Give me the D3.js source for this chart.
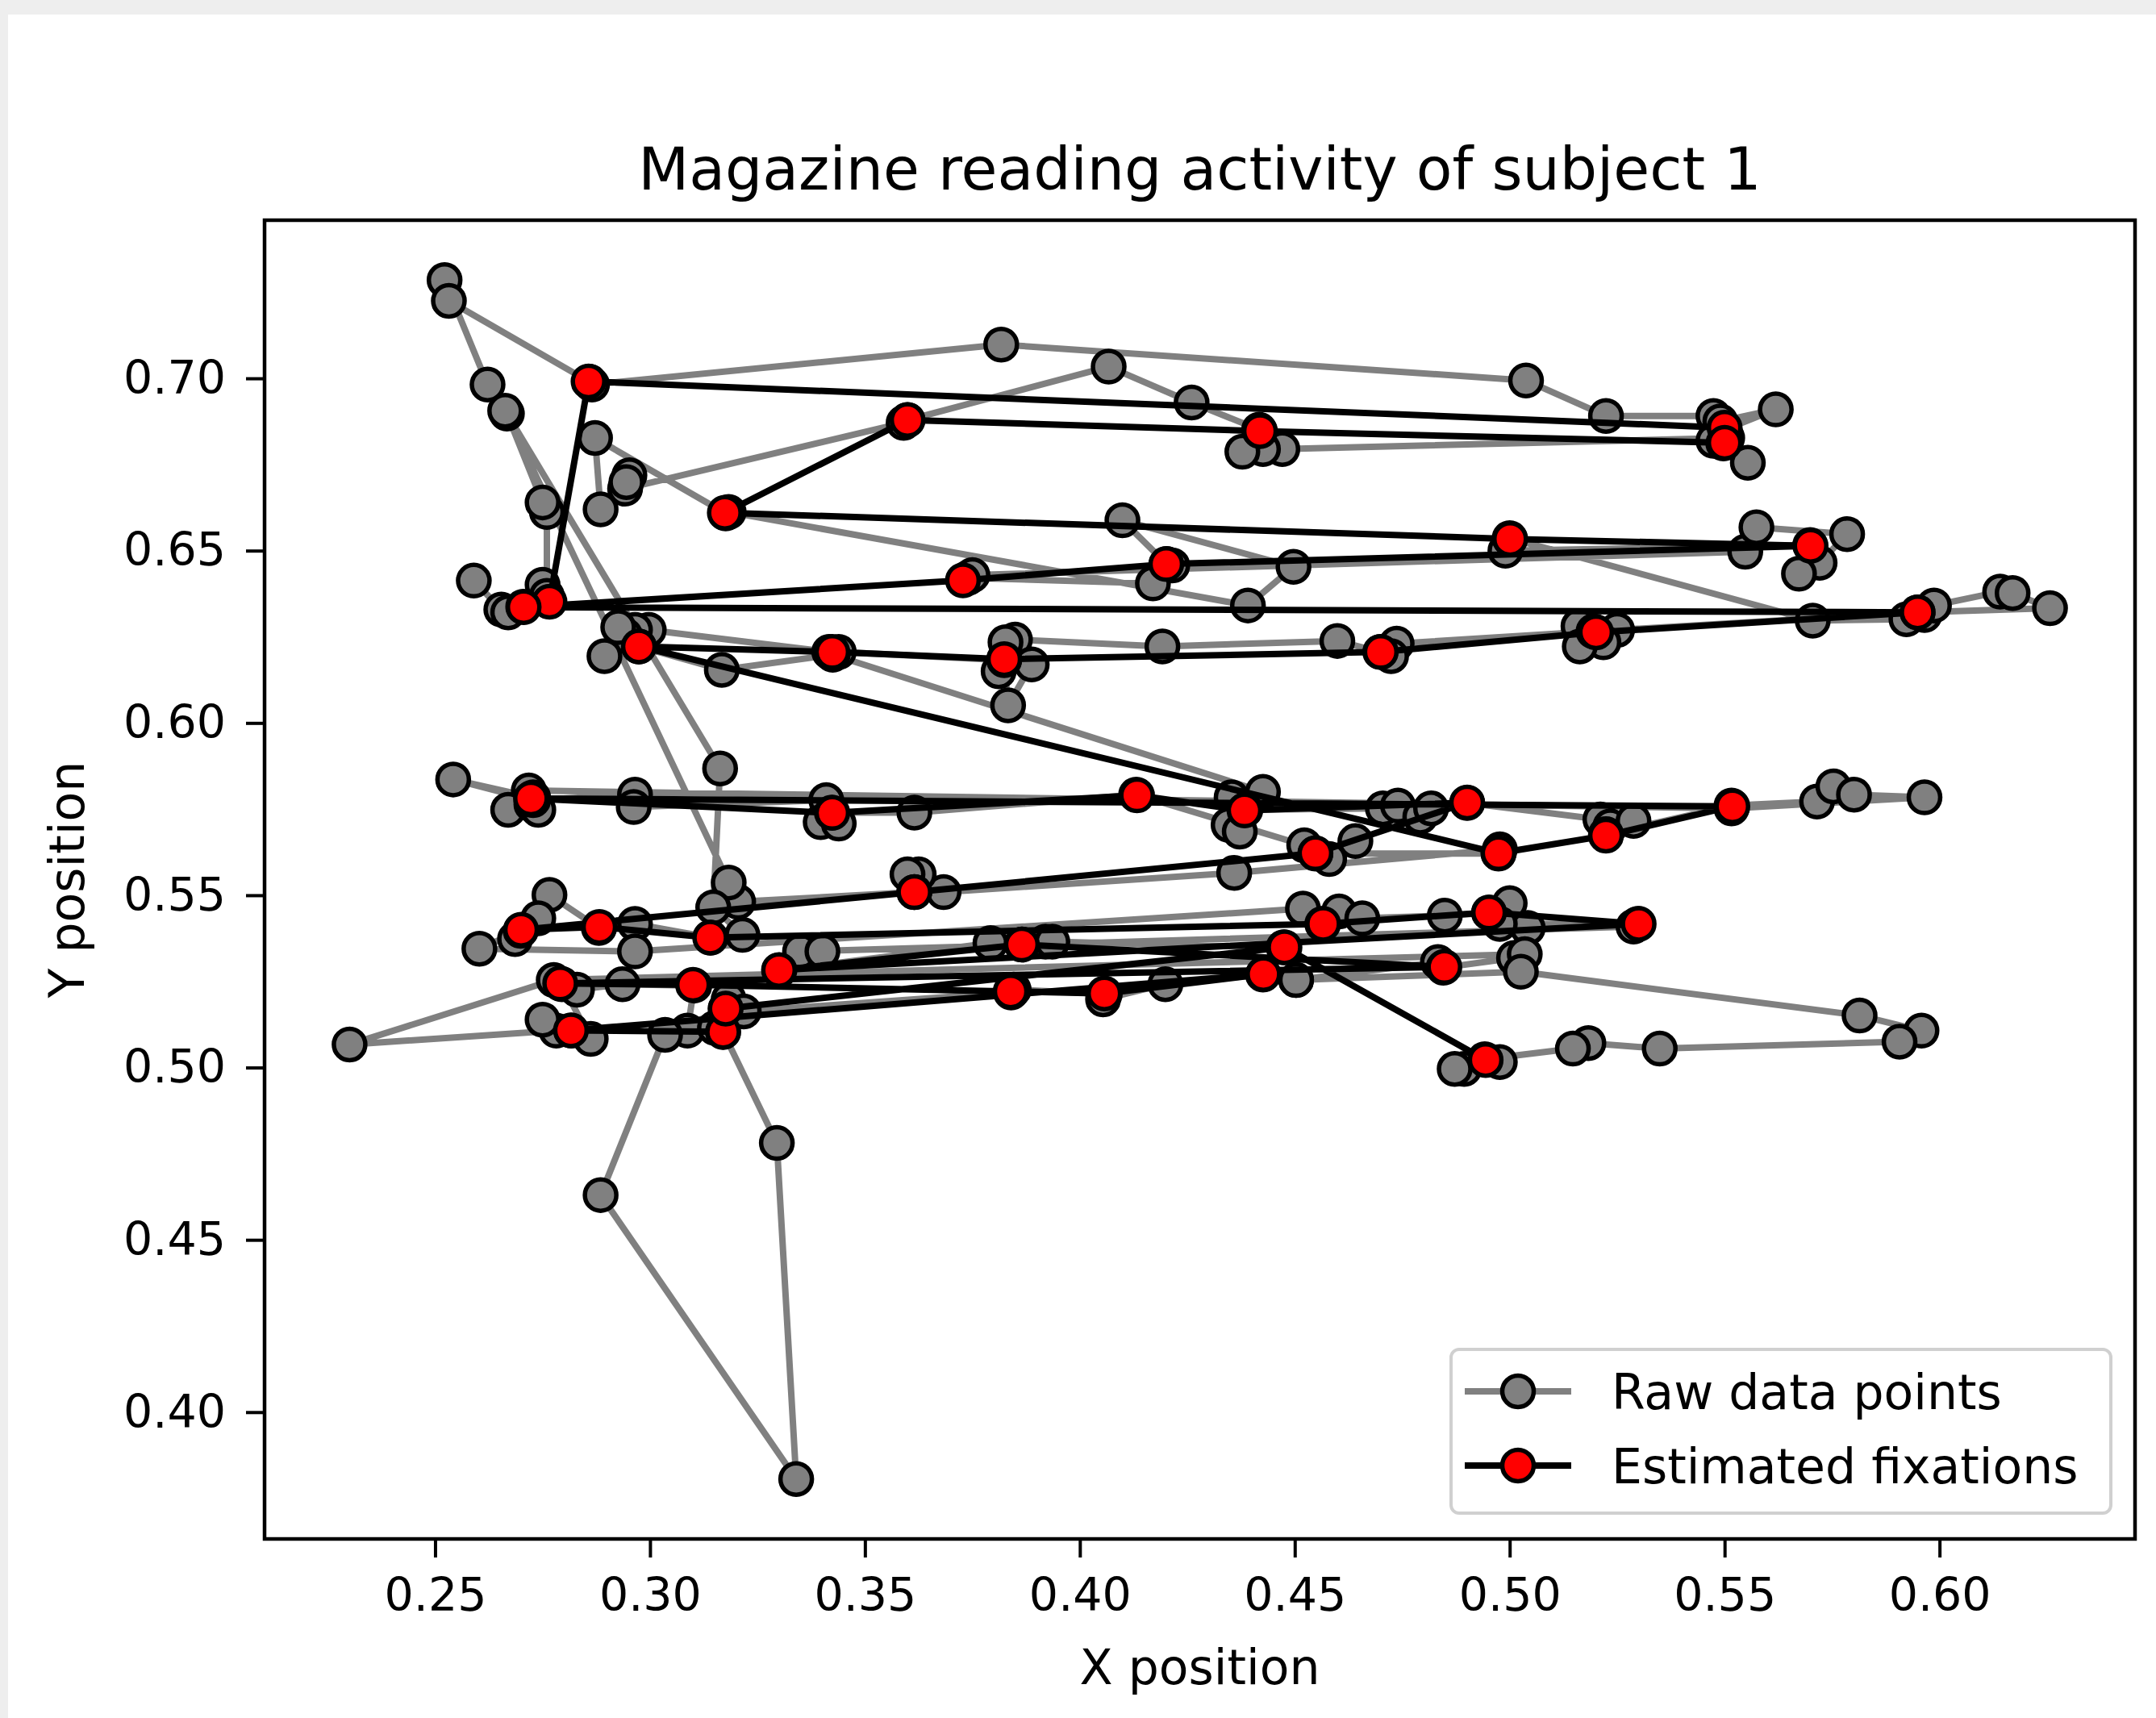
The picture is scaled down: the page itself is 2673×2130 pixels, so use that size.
<!DOCTYPE html>
<html>
<head>
<meta charset="utf-8">
<script src="https://cdnjs.cloudflare.com/ajax/libs/d3/7.8.5/d3.min.js"></script>
<style>
    body { margin: 0; background: #ffffff; }
    #chart svg { display: block; }
</style>
</head>
<body>
<div id="chart"></div>
<script>
// Raw gaze samples (in time order)
var rawX = [0.259,0.2654,0.267,0.2705,0.275,0.276,0.276,0.275,0.2667,0.2622,
    0.2522,0.2532,0.2859,0.2865,0.3817,0.5038,0.5224,0.5474,0.549,0.5619,
    0.55,0.5474,0.5497,0.5554,0.5506,0.4471,0.4426,0.4378,0.4417,0.426,
    0.4067,0.3599,0.359,0.2942,0.2952,0.2945,0.2885,0.2872,0.3176,0.3183,
    0.4391,0.4497,0.4099,0.4202,0.4215,0.417,0.374,0.375,0.5548,0.5574,
    0.5785,0.5721,0.5673,0.5699,0.499,0.50,0.5705,0.5923,0.5965,0.5987,
    0.6141,0.617,0.6257,0.5949,0.525,0.5218,0.516,0.5163,0.5195,0.4737,
    0.4724,0.4699,0.4599,0.4192,0.3849,0.3827,0.3811,0.3888,0.3833,0.3824,
    0.3439,0.3417,0.2997,0.2965,0.2942,0.2926,0.2894,0.2974,0.3167,0.3425,
    0.4426,0.4353,0.4346,0.4372,0.4385,0.4705,0.474,0.4792,0.4817,0.4901,
    0.5211,0.5234,0.5288,0.5224,0.5516,0.5715,0.5753,0.5801,0.5965,0.5516,
    0.2718,0.267,0.2724,0.274,0.2728,0.2542,0.2728,0.2965,0.2962,0.341,
    0.3397,0.3439,0.3423,0.3615,0.4131,0.4522,0.458,0.4641,0.4548,0.4974,
    0.4977,0.4359,0.3683,0.3625,0.3599,0.3615,0.3205,0.3183,0.2663,0.3163,
    0.3147,0.3215,0.3141,0.2965,0.2881,0.2766,0.274,0.2686,0.2699,0.2603,
    0.2965,0.4519,0.4603,0.4564,0.4657,0.4849,0.4952,0.50,0.5042,0.4977,
    0.5298,0.5288,0.3362,0.3349,0.3401,0.3301,0.3792,0.3865,0.392,0.3936,
    0.4474,0.4503,0.4833,0.4846,0.501,0.5035,0.2776,0.2301,0.2782,0.275,
    0.2817,0.2862,0.2795,0.283,0.2936,0.3103,0.3087,0.3151,0.317,0.3295,
    0.334,0.2885,0.3035,0.3176,0.3183,0.3218,0.384,0.3846,0.4058,0.4054,
    0.4199,0.4426,0.4503,0.5026,0.5814,0.5958,0.5907,0.5349,0.5183,0.5147,
    0.4942,0.4977,0.4894,0.4872];
var rawY = [0.6413,0.6329,0.6321,0.6337,0.6401,0.6369,0.6612,0.664,0.6898,0.6982,
    0.7285,0.7225,0.699,0.6982,0.7098,0.6994,0.6891,0.6891,0.6875,0.691,
    0.6851,0.6819,0.6811,0.6755,0.6827,0.6795,0.6795,0.6787,0.6851,0.693,
    0.7034,0.6879,0.6871,0.668,0.6719,0.6699,0.662,0.6827,0.6608,0.6612,
    0.6341,0.6453,0.6588,0.6461,0.6457,0.6405,0.6421,0.6429,0.6497,0.6568,
    0.6548,0.6465,0.6433,0.6516,0.65,0.6536,0.6297,0.6301,0.6313,0.6341,
    0.6381,0.6377,0.6333,0.6321,0.627,0.6234,0.6281,0.6222,0.6266,0.623,
    0.6194,0.6206,0.6238,0.6222,0.6242,0.6234,0.615,0.617,0.6051,0.6182,
    0.6206,0.6206,0.627,0.627,0.6254,0.6278,0.6194,0.6222,0.6154,0.6198,
    0.58,0.5784,0.5704,0.5685,0.5748,0.5752,0.576,0.5728,0.5752,0.5768,
    0.572,0.57,0.5716,0.5677,0.576,0.5772,0.5816,0.5792,0.5784,0.5752,
    0.5804,0.5748,0.5764,0.5748,0.5784,0.5836,0.5776,0.5792,0.5756,0.5776,
    0.5712,0.5708,0.574,0.574,0.5792,0.5645,0.5605,0.5657,0.5621,0.5621,
    0.5633,0.5565,0.5509,0.5561,0.5561,0.5509,0.5481,0.5537,0.6906,0.5868,
    0.5465,0.5385,0.5377,0.5417,0.5405,0.5501,0.5433,0.5373,0.5397,0.5345,
    0.5337,0.5461,0.5453,0.5417,0.5433,0.5441,0.5449,0.5477,0.5405,0.5417,
    0.5417,0.5409,0.5337,0.5337,0.5337,0.5282,0.5361,0.5357,0.5365,0.5365,
    0.5349,0.5254,0.5306,0.529,0.5318,0.5329,0.5254,0.5067,0.5107,0.5139,
    0.5107,0.5083,0.5242,0.5226,0.5242,0.5238,0.5107,0.5115,0.5103,0.4781,
    0.3806,0.463,0.5095,0.5171,0.5198,0.5163,0.5218,0.5226,0.5214,0.5198,
    0.5242,0.527,0.5254,0.5278,0.5151,0.5107,0.5075,0.5055,0.5071,0.5055,
    0.5024,0.5016,0.4996,0.4996];

// Estimated fixations (in time order)
var fixX = [0.2766,0.2857,0.55,0.55,0.4419,0.3599,0.3174,0.5001,0.57,0.4201,
    0.3728,0.2706,0.5949,0.5201,0.47,0.3824,0.3424,0.2974,0.4974,0.5224,
    0.5518,0.2723,0.3424,0.4133,0.4383,0.4901,0.4548,0.3615,0.27,0.2882,
    0.314,0.4566,0.4952,0.53,0.33,0.3865,0.4848,0.2791,0.31,0.3839,
    0.4057,0.4427,0.2816,0.317,0.3176,0.4476,0.4944];
var fixY = [0.6352,0.6991,0.6857,0.6813,0.6847,0.6879,0.661,0.6534,0.6514,0.6461,
    0.6414,0.6336,0.6321,0.6263,0.6206,0.6185,0.6206,0.6222,0.5622,0.5673,
    0.5758,0.5781,0.5739,0.579,0.5746,0.5769,0.5622,0.5509,0.54,0.5408,
    0.5377,0.5417,0.545,0.5417,0.5283,0.5357,0.5292,0.5244,0.524,0.5221,
    0.5215,0.5271,0.5108,0.5104,0.5171,0.5349,0.5022];

var xTicks = [0.25, 0.30, 0.35, 0.40, 0.45, 0.50, 0.55, 0.60];
var yTicks = [0.40, 0.45, 0.50, 0.55, 0.60, 0.65, 0.70];
var legendLabels = ["Raw data points", "Estimated fixations"];

var rawData = rawX.map(function (d, i) { return { x: d, y: rawY[i] }; });
var fixData = fixX.map(function (d, i) { return { x: d, y: fixY[i] }; });

// Set up the chart dimensions
const width = 2673, height = 2130;
var plot = { left: 328, right: 2647, top: 273, bottom: 1908 };
var font = "DejaVu Sans, Liberation Sans, sans-serif";
var markerR = 19.5, markerEdge = 5.5, lineW = 8;

var svg = d3.select("#chart")
    .append("svg")
    .attr("width", width)
    .attr("height", height);

// page background with the grey margin strips
svg.append("rect").attr("width", width).attr("height", height).attr("fill", "#ffffff");
svg.append("rect").attr("width", width).attr("height", 18).attr("fill", "#eeeeee");
svg.append("rect").attr("width", 10).attr("height", height).attr("fill", "#eeeeee");

// matplotlib-like 5% margins around the data
function padded(arr) {
    var ext = d3.extent(arr);
    var m = (ext[1] - ext[0]) * 0.05;
    return [ext[0] - m, ext[1] + m];
}

var xScale = d3.scaleLinear()
    .domain(padded(rawX.concat(fixX)))
    .range([plot.left, plot.right]);

var yScale = d3.scaleLinear()
    .domain(padded(rawY.concat(fixY)))
    .range([plot.bottom, plot.top]);

// Draw x-axis
var xAxis = svg.append("g")
    .attr("transform", "translate(0," + plot.bottom + ")")
    .call(d3.axisBottom(xScale).tickValues(xTicks).tickFormat(d3.format(".2f"))
        .tickSize(23).tickPadding(26));

// Draw y-axis
var yAxis = svg.append("g")
    .attr("transform", "translate(" + plot.left + ",0)")
    .call(d3.axisLeft(yScale).tickValues(yTicks).tickFormat(d3.format(".2f"))
        .tickSize(23).tickPadding(25));

[xAxis, yAxis].forEach(function (ax) {
    ax.select(".domain").remove();
    ax.selectAll(".tick line").attr("stroke", "#000").attr("stroke-width", 4);
    ax.selectAll(".tick text")
        .attr("fill", "#000")
        .style("font-family", font)
        .style("font-size", "57px");
});

var line = d3.line()
    .x(function (d) { return xScale(d.x); })
    .y(function (d) { return yScale(d.y); });

var dataLayer = svg.append("g");

// Raw data: grey line then grey markers
dataLayer.append("path")
    .datum(rawData)
    .attr("d", line)
    .attr("fill", "none")
    .attr("stroke", "#808080")
    .attr("stroke-width", lineW)
    .attr("stroke-linejoin", "round");

dataLayer.selectAll(".raw")
    .data(rawData)
    .enter().append("circle")
    .attr("class", "raw")
    .attr("cx", function (d) { return xScale(d.x); })
    .attr("cy", function (d) { return yScale(d.y); })
    .attr("r", markerR)
    .attr("fill", "#808080")
    .attr("stroke", "#000")
    .attr("stroke-width", markerEdge);

// Fixations: black line then red markers
dataLayer.append("path")
    .datum(fixData)
    .attr("d", line)
    .attr("fill", "none")
    .attr("stroke", "#000")
    .attr("stroke-width", lineW)
    .attr("stroke-linejoin", "round");

dataLayer.selectAll(".fix")
    .data(fixData)
    .enter().append("circle")
    .attr("class", "fix")
    .attr("cx", function (d) { return xScale(d.x); })
    .attr("cy", function (d) { return yScale(d.y); })
    .attr("r", markerR)
    .attr("fill", "#ff0000")
    .attr("stroke", "#000")
    .attr("stroke-width", markerEdge);

// Axes frame
svg.append("rect")
    .attr("x", plot.left)
    .attr("y", plot.top)
    .attr("width", plot.right - plot.left)
    .attr("height", plot.bottom - plot.top)
    .attr("fill", "none")
    .attr("stroke", "#000")
    .attr("stroke-width", 4.5);

// Title
svg.append("text")
    .attr("x", (plot.left + plot.right) / 2)
    .attr("y", 235)
    .style("text-anchor", "middle")
    .style("font-family", font)
    .style("font-size", "73px")
    .text("Magazine reading activity of subject 1");

// X-axis label
svg.append("text")
    .attr("x", (plot.left + plot.right) / 2)
    .attr("y", 2088)
    .style("text-anchor", "middle")
    .style("font-family", font)
    .style("font-size", "60px")
    .text("X position");

// Y-axis label
svg.append("text")
    .attr("transform", "translate(104," + ((plot.top + plot.bottom) / 2) + ") rotate(-90)")
    .style("text-anchor", "middle")
    .style("font-family", font)
    .style("font-size", "60px")
    .text("Y position");

// Legend
var legend = svg.append("g");
legend.append("rect")
    .attr("x", 1799).attr("y", 1673)
    .attr("width", 818).attr("height", 203)
    .attr("rx", 10)
    .attr("fill", "#ffffff").attr("fill-opacity", 0.8)
    .attr("stroke", "#d0d0d0").attr("stroke-width", 4);

var legendStyle = [
    { line: "#808080", fill: "#808080" },
    { line: "#000000", fill: "#ff0000" }
];

legendLabels.forEach(function (label, i) {
    var ly = 1725 + i * 92;
    legend.append("line")
        .attr("x1", 1816).attr("x2", 1948)
        .attr("y1", ly).attr("y2", ly)
        .attr("stroke", legendStyle[i].line)
        .attr("stroke-width", lineW);
    legend.append("circle")
        .attr("cx", 1882).attr("cy", ly).attr("r", markerR)
        .attr("fill", legendStyle[i].fill)
        .attr("stroke", "#000").attr("stroke-width", markerEdge);
    legend.append("text")
        .attr("x", 1998).attr("y", ly + 22)
        .style("font-family", font)
        .style("font-size", "60px")
        .text(label);
});
</script>
</body>
</html>
